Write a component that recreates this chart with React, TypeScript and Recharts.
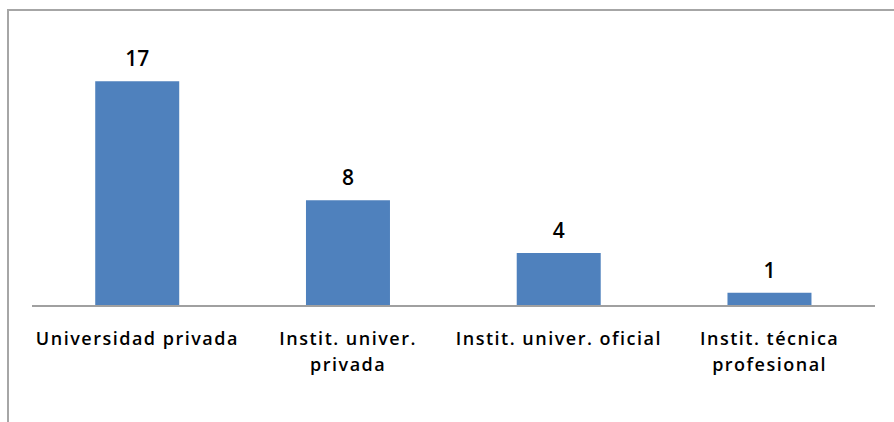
import React from 'react';
import { BarChart, Bar, XAxis, YAxis, LabelList, ReferenceLine } from 'recharts';

const categories = ['Universidad privada', 'Instit. univer. privada', 'Instit. univer. oficial', 'Instit. técnica profesional'];
const tickLines = [['Universidad privada'], ['Instit. univer.', 'privada'], ['Instit. univer. oficial'], ['Instit. técnica', 'profesional']];
const counts = [17, 8, 4, 1];

const data = categories.map((name, i) => ({ name, value: counts[i] }));

const FONT = '"Open Sans", sans-serif';

// multi-line category labels, like the excel chart
const CategoryTick = (props: any) => {
	const { x, y, index } = props;
	const lines = tickLines[index] || [];
	return (
		<g transform={`translate(${x},${y})`}>
			{lines.map((line, i) => (
				<text
					key={i}
					x={0}
					y={31 + i * 26}
					textAnchor="middle"
					fontFamily={FONT}
					fontWeight={600}
					fontSize={18}
					letterSpacing={1.5}
					fill="#000"
				>
					{line}
				</text>
			))}
		</g>
	);
};

export default function App() {
	return (
		<div style={{ position: 'absolute', left: 0, top: 0, width: 894, height: 422, background: '#fff' }}>
			<div
				style={{
					position: 'absolute',
					left: 7,
					top: 9,
					right: 0,
					bottom: 0,
					borderTop: '2px solid #a6a6a6',
					borderLeft: '2px solid #a6a6a6',
				}}
			/>
			<BarChart
				width={894}
				height={422}
				data={data}
				margin={{ top: 68, right: 19, bottom: 36, left: 32 }}
				barCategoryGap="30%"
				style={{ position: 'absolute', left: 0, top: 0 }}
			>
				<YAxis hide domain={[0, 18]} />
				<XAxis
					dataKey="name"
					height={80}
					axisLine={false}
					tickLine={false}
					tick={<CategoryTick />}
					interval={0}
				/>
				<ReferenceLine y={0} stroke="#a0a0a0" strokeWidth={2} />
				<Bar dataKey="value" fill="#4f81bd" isAnimationActive={false}>
					<LabelList
						dataKey="value"
						position="top"
						offset={15}
						fontFamily={FONT}
						fontWeight={600}
						fontSize={21}
						fill="#000"
					/>
				</Bar>
			</BarChart>
		</div>
	);
}
